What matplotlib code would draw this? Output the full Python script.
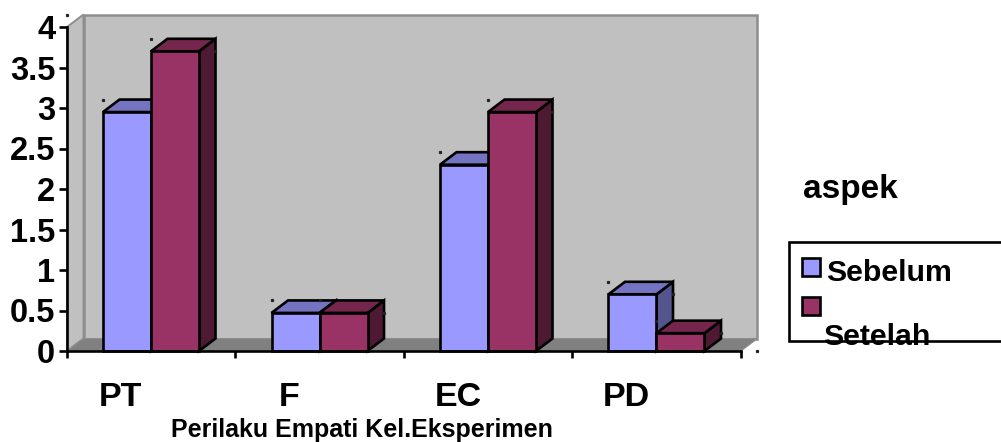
import matplotlib
matplotlib.use("Agg")
import matplotlib.pyplot as plt
from matplotlib.patches import Polygon, Rectangle

categories = ["PT", "F", "EC", "PD"]
sebelum = [2.95, 0.47, 2.30, 0.70]
setelah = [3.70, 0.47, 2.95, 0.22]
y_ticks = [0, 0.5, 1, 1.5, 2, 2.5, 3, 3.5, 4]
y_labels = ["0", "0.5", "1", "1.5", "2", "2.5", "3", "3.5", "4"]

plt.rcParams["font.family"] = ["Liberation Sans", "DejaVu Sans"]
W, H = 1001, 442
fig = plt.figure(figsize=(W / 100, H / 100), dpi=100)
ax = fig.add_axes([67 / W, (H - 351) / H, 674 / W, 324 / H])
ax.set_xlim(0, 4)
ax.set_ylim(0, 4)

# 3D depth expressed in axis units
DX = 16.5 / 168.5
DY = 12.5 / 81
BAR_W = 48 / 168.5
GROUP_L = 36 / 168.5
EDGE = 1.9


def poly(points, fc, ec="black", lw=EDGE, z=2):
    ax.add_patch(Polygon(points, closed=True, facecolor=fc, edgecolor=ec,
                         linewidth=lw, joinstyle="miter", clip_on=False, zorder=z))


# walls and floor
WALL = "#C0C0C0"
GRID_EDGE = "#8E8E8E"
poly([(DX, DY), (4 + DX, DY), (4 + DX, 4 + DY), (DX, 4 + DY)], WALL, GRID_EDGE, 1.8, 1)
poly([(0, 0), (DX, DY), (DX, 4 + DY), (0, 4)], WALL, GRID_EDGE, 1.4, 1)
poly([(0, 0), (4, 0), (4 + DX, DY), (DX, DY)], "#808080", "#8E8E8E", 0.8, 1.1)


def bar3d(x, v, front, top, side, z):
    x2 = x + BAR_W
    poly([(x2, 0), (x2 + DX, DY), (x2 + DX, v + DY), (x2, v)], side, z=z)
    poly([(x, v), (x2, v), (x2 + DX, v + DY), (x + DX, v + DY)], top, z=z)
    poly([(x, 0), (x2, 0), (x2, v), (x, v)], front, z=z + 0.1)
    # small specks left over by the original rendering
    ax.plot([x, x2 + DX], [v + DY, v], ls="none", marker="s", ms=1.3, color="#222222",
            clip_on=False, zorder=z + 0.2)


for i, (a, b) in enumerate(zip(sebelum, setelah)):
    x0 = i + GROUP_L
    bar3d(x0, a, "#9999FF", "#7474C2", "#55558E", 3 + i)
    bar3d(x0 + BAR_W, b, "#993366", "#74264D", "#4D1933", 3.4 + i)

ax.plot([0, 4 + DX], [4 + DY, 0], ls="none", marker="s", ms=1.3, color="#222222",
        clip_on=False, zorder=9)

# axes
for s in ("top", "right"):
    ax.spines[s].set_visible(False)
for s in ("left", "bottom"):
    ax.spines[s].set_linewidth(1.9)
    ax.spines[s].set_zorder(8)
ax.set_yticks(y_ticks)
ax.set_yticklabels(y_labels, fontsize=23.5, fontweight="bold")
ax.tick_params(axis="y", length=6, width=1.9, pad=2.5)
ax.set_xticks([i + 0.32 for i in range(len(categories))])
ax.set_xticklabels(categories, fontsize=24.5, fontweight="bold")
ax.tick_params(axis="x", which="major", length=0, pad=22)
ax.set_xticks(range(5), minor=True)
ax.tick_params(axis="x", which="minor", length=5, width=1.9)
ax.set_xlabel("Perilaku Empati Kel.Eksperimen", fontsize=18, fontweight="bold",
              labelpad=4, x=(362 - 67) / 674)

# legend
fig.text(850 / W, 1 - 189 / H, "aspek", fontsize=24, fontweight="bold", ha="center", va="center")
fig.add_artist(Rectangle((788.5 / W, 1 - 341 / H), 220 / W, 99 / H, transform=fig.transFigure,
                         facecolor="white", edgecolor="black", linewidth=1.9, zorder=1))
fig.add_artist(Rectangle((802 / W, 1 - 276 / H), 18 / W, 18 / H, transform=fig.transFigure,
                         facecolor="#9999FF", edgecolor="black", linewidth=1.9, zorder=2))
fig.add_artist(Rectangle((802 / W, 1 - 315 / H), 18 / W, 18 / H, transform=fig.transFigure,
                         facecolor="#993366", edgecolor="black", linewidth=1.9, zorder=2))
fig.text(826 / W, 1 - 273 / H, "Sebelum", fontsize=21.8, fontweight="bold", va="center", zorder=3)
fig.text(823 / W, 1 - 337 / H, "Setelah", fontsize=21.8, fontweight="bold", va="center", zorder=3)

fig.savefig("out.png", dpi=100)
